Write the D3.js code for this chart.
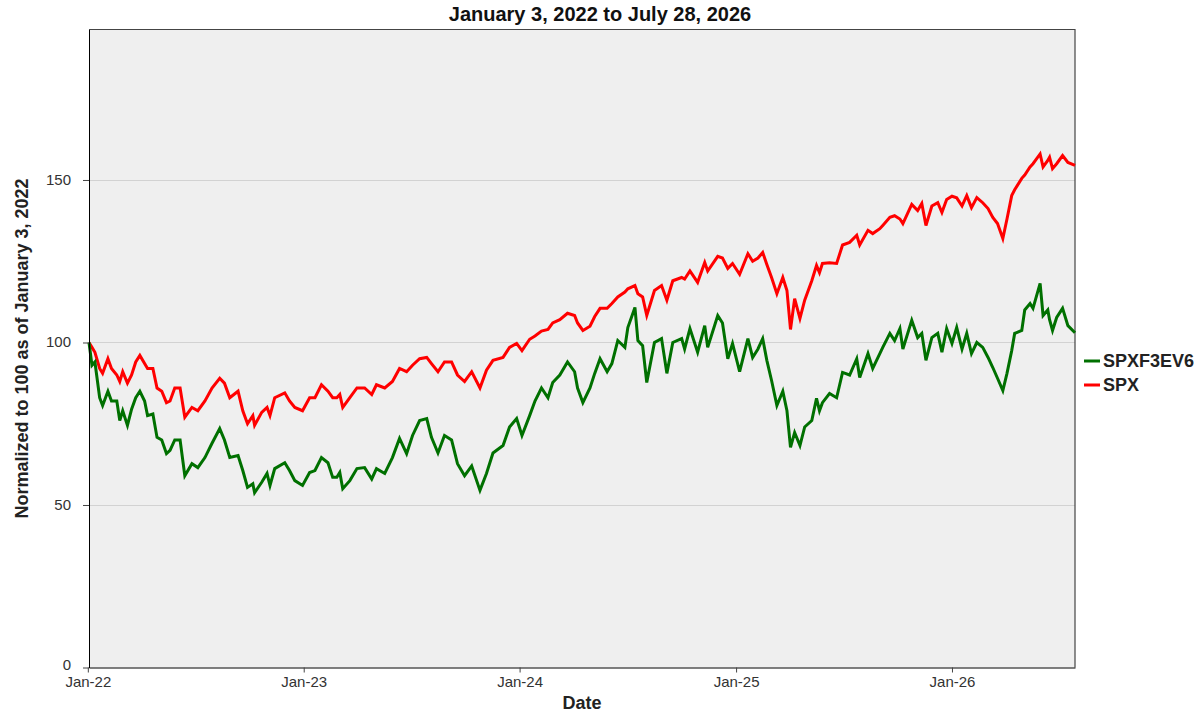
<!DOCTYPE html>
<html><head><meta charset="utf-8">
<script src="https://cdn.jsdelivr.net/npm/d3@7"></script>
<style>body{margin:0;background:#fff}svg{display:block}</style>
</head><body>
<svg id="c" width="1200" height="720"></svg>
<script>
const dates = ["2022-01-03","2022-01-08","2022-01-13","2022-01-21","2022-01-26","2022-02-04","2022-02-10","2022-02-19","2022-02-24","2022-03-01","2022-03-09","2022-03-16","2022-03-23","2022-03-30","2022-04-07","2022-04-12","2022-04-21","2022-04-28","2022-05-06","2022-05-14","2022-05-20","2022-05-28","2022-06-06","2022-06-14","2022-06-26","2022-07-06","2022-07-18","2022-07-30","2022-08-12","2022-08-20","2022-08-29","2022-09-12","2022-09-20","2022-09-28","2022-10-07","2022-10-10","2022-10-22","2022-10-31","2022-11-05","2022-11-13","2022-11-30","2022-12-08","2022-12-17","2022-12-30",
"2023-01-11","2023-01-20","2023-01-31","2023-02-11","2023-02-19","2023-02-26","2023-03-03","2023-03-08","2023-03-20","2023-04-01","2023-04-14","2023-04-26","2023-05-04","2023-05-18","2023-05-31","2023-06-12","2023-06-24","2023-07-04","2023-07-16","2023-07-28","2023-08-05","2023-08-16","2023-08-27","2023-09-08","2023-09-18","2023-09-30","2023-10-12","2023-10-26","2023-11-06","2023-11-17","2023-12-04","2023-12-15","2023-12-27",
"2024-01-05","2024-01-18","2024-01-27","2024-02-07","2024-02-18","2024-02-26","2024-03-09","2024-03-22","2024-04-03","2024-04-08","2024-04-17","2024-04-29","2024-05-07","2024-05-16","2024-05-28","2024-06-05","2024-06-15","2024-06-27","2024-07-02","2024-07-14","2024-07-19","2024-07-27","2024-08-03","2024-08-16","2024-08-28","2024-09-06","2024-09-16","2024-10-01","2024-10-06","2024-10-15","2024-10-28","2024-11-09","2024-11-14","2024-12-01","2024-12-09","2024-12-18","2024-12-26",
"2025-01-07","2025-01-21","2025-01-29","2025-02-07","2025-02-15","2025-02-22","2025-03-02","2025-03-11","2025-03-21","2025-03-28","2025-04-03","2025-04-10","2025-04-19","2025-04-27","2025-05-09","2025-05-17","2025-05-22","2025-05-27","2025-06-08","2025-06-20","2025-06-30","2025-07-12","2025-07-24","2025-07-29","2025-08-12","2025-08-20","2025-09-01","2025-09-06","2025-09-18","2025-09-26","2025-10-05","2025-10-10","2025-10-25","2025-11-04","2025-11-11","2025-11-18","2025-11-28","2025-12-08","2025-12-15","2025-12-23",
"2026-01-01","2026-01-09","2026-01-18","2026-01-26","2026-02-03","2026-02-12","2026-02-22","2026-03-03","2026-03-11","2026-03-19","2026-03-28","2026-04-04","2026-04-12","2026-04-17","2026-04-29","2026-05-04","2026-05-13","2026-05-18","2026-05-30","2026-06-04","2026-06-12","2026-06-15","2026-06-20","2026-06-27","2026-07-07","2026-07-16","2026-07-28"];

const spx = [100,98.5,97,92,90.5,95,92,90,88,91,87.5,90,94,96,93.5,92,92,86,85,81.5,82,86,86,77,80,79,82,86,89,87.5,83,85,79,75,77.5,74.5,78.5,80,77.5,83,84.5,82,80,79,
83,83,87,85,83,83,84,80,83,86,86,84,87,86,88,92,91,93,95,95.4,93.5,91,94,94,90,88,91,86,91.5,94.5,95.4,98.5,99.7,
97.5,101,102,103.5,104,106,107,109,108.3,106,103.7,105,108,110.5,110.5,112,114,115.5,116.5,117.5,115,114,108.3,116,117.5,113,119,120,119.5,122,118.5,124.6,122,126.5,126,122.8,124.3,
121,127.3,125,126,127.7,124,120,115,120,116,104,113.5,107.4,113,119,123.7,121.5,124.3,124.5,124.3,130,130.8,133,130,134.5,133.5,135,136,138.5,139,138,136.6,142.5,140.6,142.8,136,142,143,140,144,
145,144.5,142,145.2,141.5,144.6,143,141.2,138.5,136.6,132,138,145.2,147,150.5,151.5,154,155,158,154,156,157,153.5,155,157.5,155.4,154.5];

const spxf3ev6 = [100,93,94,83,80.6,85,82,82,76,79,74.5,79.5,83,85,82,77.5,78,70.8,70,65.8,66.8,70,70,59,62.7,61.5,64.6,69,73.5,70,64.6,65.2,60.6,55.4,56.5,53.8,57,59.7,56,61.2,63,60.6,57.5,56,
60,60.6,64.6,63,58.5,58.5,60,55,57.5,61.2,61.5,58,61.2,59.7,64.6,70.5,65.8,71.4,76,76.6,70.8,66,71.4,70,62.7,59,62,54.5,59.7,66,68.3,74,76.6,
71.4,77.5,82,86,83,87.7,90,94,91,86,81.5,86,90.5,95,91,93.5,100.6,98.5,104.6,110.8,100.6,99,87.7,100,101.2,90.5,100,101.2,98,104.3,97,105.2,98.5,108.3,106,95,99.7,
91,101.2,95.4,98,101.2,94.5,88.3,80.6,85,79,67.7,72.3,68.3,74,76,82.8,79,81.5,84.3,83,90.8,90,95,89.2,96.6,92,96.6,98.5,102.8,100.6,104.3,98,106.8,101.5,102.8,94.5,101.5,102.8,97,104.3,
99.7,104.6,98,102.8,96.6,100,98.5,95.4,92.3,89,85.2,90.5,97.5,102.8,103.7,110,112,110.5,118.2,108.3,110,107,103.7,107.7,110.5,105.2,103];

const seriesNames = ["SPXF3EV6","SPX"];
const seriesColors = ["#007000","#ff0000"];
const yTicks = [0,50,100,150];
const xTickDates = ["2022-01-01","2023-01-01","2024-01-01","2025-01-01","2026-01-01"];
const xTickLabels = ["Jan-22","Jan-23","Jan-24","Jan-25","Jan-26"];
const titleText = "January 3, 2022 to July 28, 2026";
const yLabel = "Normalized to 100 as of January 3, 2022";
const xLabel = "Date";

const parse = d3.utcParse("%Y-%m-%d");
const L = 89, R = 1075, T = 29.5, B = 667.5;
const svg = d3.select("#c");
const font = "'Liberation Sans', Arial, sans-serif";

const x = d3.scaleUtc().domain([parse(dates[0]), parse(dates[dates.length-1])]).range([L, R]);
const y = d3.scaleLinear().domain([0, 196.3]).range([B, T]);

svg.append("rect").attr("x", L).attr("y", T).attr("width", R-L).attr("height", B-T).attr("fill", "#efefef");

// gridlines
svg.append("g").selectAll("line").data(yTicks.filter(v => v > 0)).join("line")
  .attr("x1", L).attr("x2", R).attr("y1", d => Math.round(y(d))+0.5).attr("y2", d => Math.round(y(d))+0.5)
  .attr("stroke", "#d2d2d2").attr("stroke-width", 1);

// frame top/right
svg.append("path").attr("d", `M${L},${T}H${R}V${B}`).attr("fill","none").attr("stroke","#444").attr("stroke-width",1.2);

const seriesData = [spxf3ev6, spx];
const line = d3.line().x((d,i) => x(parse(dates[i]))).y(d => y(d));
[1,0].forEach(k => {
  svg.append("path").datum(seriesData[k]).attr("d", line).attr("fill","none")
    .attr("stroke", seriesColors[k]).attr("stroke-width", 3).attr("stroke-linejoin","miter");
});

// axes
const yAxis = d3.axisLeft(y).tickValues(yTicks).tickSize(6).tickSizeOuter(0).tickPadding(12).tickFormat(d3.format("d"));
const gy = svg.append("g").attr("transform", `translate(${L},0)`).call(yAxis);
gy.select(".domain").attr("stroke","#000");
gy.selectAll("text").attr("font-family", font).attr("font-size", 15).attr("fill","#333")
  .attr("dy", d => d === 0 ? "0.15em" : "0.3em");
gy.selectAll(".tick line").attr("stroke","#444");

const xAxis = d3.axisBottom(x).tickValues(xTickDates.map(parse)).tickSize(5).tickSizeOuter(0).tickPadding(4)
  .tickFormat((d,i) => xTickLabels[i]);
const gx = svg.append("g").attr("transform", `translate(0,${B})`).call(xAxis);
gx.select(".domain").attr("stroke","#000");
gx.selectAll("text").attr("font-family", font).attr("font-size", 15).attr("fill","#333");
gx.selectAll(".tick line").attr("stroke","#444");

// title and labels
svg.append("text").attr("x", (L+R)/2 + 18).attr("y", 21).attr("text-anchor","middle")
  .attr("font-family", font).attr("font-weight","bold").attr("font-size", 20).attr("fill","#111").text(titleText);
svg.append("text").attr("x", (L+R)/2).attr("y", 709).attr("text-anchor","middle")
  .attr("font-family", font).attr("font-weight","bold").attr("font-size", 18).attr("fill","#222").text(xLabel);
svg.append("text").attr("transform", `translate(28,${(T+B)/2}) rotate(-90)`).attr("text-anchor","middle")
  .attr("font-family", font).attr("font-weight","bold").attr("font-size", 18).attr("fill","#222").text(yLabel);

// legend
const lg = svg.append("g").selectAll("g").data(seriesNames).join("g")
  .attr("transform", (d,i) => `translate(1084,${361 + i*24})`);
lg.append("line").attr("x1",0).attr("x2",16).attr("y1",0).attr("y2",0)
  .attr("stroke",(d,i)=>seriesColors[i]).attr("stroke-width",3);
lg.append("text").attr("x",19).attr("y",6).attr("font-family", font).attr("font-weight","bold")
  .attr("font-size",18).attr("fill","#222").text(d=>d);
</script>
</body></html>
